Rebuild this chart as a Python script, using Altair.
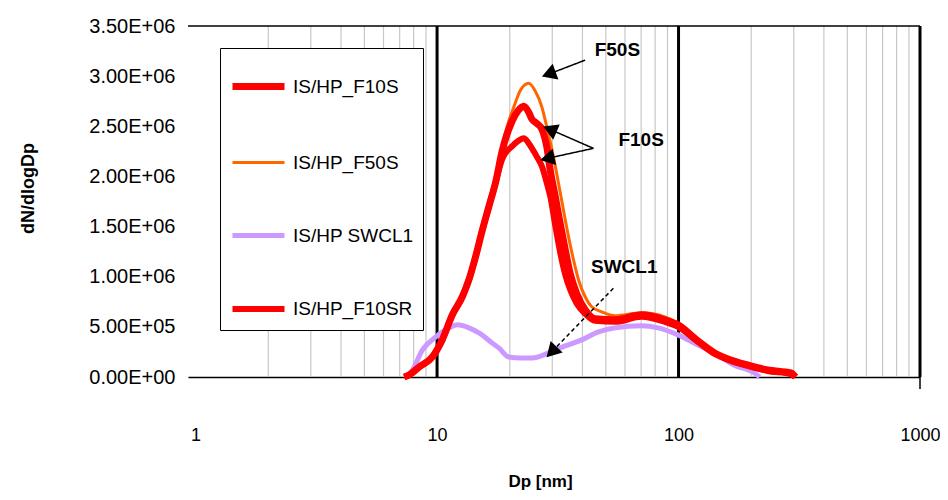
import altair as alt
import pandas as pd

# ---------------- data ----------------
series_names = ["IS/HP_F10S", "IS/HP_F50S", "IS/HP SWCL1", "IS/HP_F10SR"]
series_colors = ["#ff0000", "#ff6600", "#cc99ff", "#ff0000"]
series_widths = [7, 3, 5, 6]

f10s_dp = [7.31, 7.66, 8.43, 9.56, 10.5, 11.57, 12.72, 13.55, 14.44, 15.38, 16.39, 17.51, 18.59, 20.44,
           21.58, 22.85, 23.96, 24.72, 25.85, 27.18, 28.50, 29.43, 30.86, 32.36, 33.94, 35.59, 37.89, 41.05,
           45.11, 54.72, 70.24, 87.72, 99.5, 120.3, 141.1, 164.7, 193.4, 233.9, 291.9, 305.1]
f10s_val = [0, 0.02, 0.10, 0.20, 0.37, 0.62, 0.80, 0.97, 1.20, 1.46, 1.70, 1.95, 2.25, 2.55,
            2.65, 2.70, 2.64, 2.57, 2.53, 2.47, 2.29, 2.06, 1.80, 1.53, 1.27, 1.03, 0.83, 0.67,
            0.58, 0.57, 0.62, 0.57, 0.52, 0.36, 0.24, 0.17, 0.12, 0.07, 0.04, 0]

f10sr_dp = f10s_dp
f10sr_val = [0, 0.02, 0.10, 0.20, 0.37, 0.62, 0.80, 0.97, 1.20, 1.46, 1.70, 1.95, 2.17, 2.30,
             2.35, 2.38, 2.33, 2.28, 2.20, 2.10, 1.93, 1.80, 1.51, 1.24, 1.02, 0.87, 0.73, 0.63,
             0.56, 0.55, 0.60, 0.55, 0.50, 0.35, 0.23, 0.16, 0.11, 0.06, 0.03, 0]

f50s_dp = [7.31, 7.66, 8.43, 9.56, 10.5, 11.57, 12.72, 13.55, 14.44, 15.38, 16.39, 17.51, 18.59, 19.8,
           20.77, 22.14, 23.96, 25.4, 27.18, 28.50, 30.37, 31.85, 33.40, 35.02, 36.72, 38.52, 41.05, 43.69,
           48.05, 54.72, 70.24, 87.72, 99.5, 120.3, 141.1, 164.7, 193.4, 233.9, 291.9, 305.1]
f50s_val = [0, 0.02, 0.11, 0.21, 0.39, 0.64, 0.83, 1.0, 1.23, 1.49, 1.74, 2.0, 2.30, 2.55,
            2.69, 2.86, 2.93, 2.86, 2.69, 2.49, 2.19, 1.93, 1.66, 1.40, 1.17, 0.97, 0.80, 0.70,
            0.65, 0.61, 0.64, 0.60, 0.54, 0.38, 0.26, 0.18, 0.13, 0.08, 0.04, 0]

swcl1_dp = [7.52, 7.91, 8.70, 9.88, 11.21, 12.13, 13.55, 14.90, 16.90, 18.02, 19.82, 22.14, 24.72,
            28.96, 33.94, 39.73, 46.56, 54.72, 70.24, 82.33, 99.5, 120.3, 141.1, 169.4, 206.2, 216.8]
swcl1_val = [0, 0.07, 0.27, 0.40, 0.49, 0.52, 0.49, 0.44, 0.34, 0.29, 0.20, 0.19, 0.19,
             0.24, 0.31, 0.37, 0.45, 0.49, 0.51, 0.49, 0.42, 0.32, 0.24, 0.12, 0.04, 0]

x_tick_values = [1, 10, 100, 1000]
y_tick_values = [0, 500000, 1000000, 1500000, 2000000, 2500000, 3000000, 3500000]
minor_grid = [2, 3, 4, 5, 6, 7, 8, 9, 20, 30, 40, 50, 60, 70, 80, 90, 200, 300, 400, 500, 600, 700, 800, 900]
major_grid = [10, 100, 1000]

# annotations: label text and positions
ann_text = ["F50S", "F10S", "SWCL1"]
ann_text_dp = [55.8, 70.0, 59.6]
ann_text_val = [3.26e6, 2.36e6, 1.10e6]
# arrows: tail -> head
arrow_group = ["F50S", "F10S a", "F10S b", "SWCL1"]
arrow_tail_dp = [41.05, 44.4, 44.4, 53.7]
arrow_tail_val = [3.16e6, 2.28e6, 2.28e6, 0.884e6]
arrow_head_dp = [29.0, 29.3, 28.6, 29.8]
arrow_head_val = [3.02e6, 2.47e6, 2.18e6, 0.25e6]
arrow_angle = [250, 293, 258, 224]
arrow_dashed = [False, False, False, True]

# ---------------- build tables ----------------
rows = []
for name, dps, vals in [("IS/HP_F10S", f10s_dp, f10s_val), ("IS/HP_F50S", f50s_dp, f50s_val),
                        ("IS/HP SWCL1", swcl1_dp, swcl1_val), ("IS/HP_F10SR", f10sr_dp, f10sr_val)]:
    for i, (d, v) in enumerate(zip(dps, vals)):
        rows.append({"series": name, "Dp": d, "val": v * 1e6, "i": i})
df = pd.DataFrame(rows)

arrows = pd.DataFrame({"g": arrow_group, "tx": arrow_tail_dp, "ty": arrow_tail_val,
                       "hx": arrow_head_dp, "hy": arrow_head_val, "ang": arrow_angle,
                       "dashed": arrow_dashed})
ann = pd.DataFrame({"t": ann_text, "x": ann_text_dp, "y": ann_text_val})

FONT = "Liberation Sans, Arial, sans-serif"

x_scale = alt.Scale(type="log", domain=[0.93, 1000], nice=False)
y_scale = alt.Scale(domain=[0, 3500000], nice=False, zero=True)

color_scale = alt.Scale(domain=series_names, range=series_colors)
width_scale = alt.Scale(type="ordinal", domain=series_names, range=series_widths)

x_axis = alt.Axis(
    values=x_tick_values, labelExpr="format(datum.value, 'd')", title="Dp [nm]",
    grid=False, ticks=False, domain=True, domainColor="black", domainWidth=1.5,
    labelFont=FONT, labelFontSize=18, labelColor="black", labelPadding=49,
    labelFlush=False, labelOverlap=False,
    titleFont=FONT, titleFontSize=17, titleFontWeight="bold", titleColor="black",
    titleX=352, titleY=104, titleBaseline="middle", titleAlign="center",
)
y_axis = alt.Axis(
    values=y_tick_values,
    labelExpr="datum.value == 0 ? '0.00E+00' : (datum.value < 1000000 ? format(datum.value/100000, '.2f') + 'E+05' : format(datum.value/1000000, '.2f') + 'E+06')",
    title="dN/dlogDp", grid=False, ticks=False, domain=False,
    labelFont=FONT, labelFontSize=20, labelColor="black", labelPadding=13,
    labelFlush=False, labelOverlap=False,
    titleFont=FONT, titleFontSize=18, titleFontWeight="bold", titleColor="black",
    titleX=-160, titleY=162, titleAngle=270, titleAlign="center", titleBaseline="middle",
)

legend = alt.Legend(
    title=None, orient="none", legendX=32, legendY=22,
    symbolType="stroke", symbolSize=2704, labelFont=FONT, labelFontSize=19,
    labelColor="black", labelOffset=5, labelLimit=300, padding=9, rowPadding=34,
    strokeColor="black", fillColor="white", values=series_names,
)

minor = alt.Chart(pd.DataFrame({"Dp": minor_grid})).mark_rule(
    color="#c8c8c8", strokeWidth=1.2
).encode(x=alt.X("Dp:Q", scale=x_scale, axis=x_axis))

major = alt.Chart(pd.DataFrame({"Dp": major_grid})).mark_rule(
    color="black", strokeWidth=3
).encode(x=alt.X("Dp:Q", scale=x_scale, axis=x_axis))

right_tick = alt.Chart(pd.DataFrame({"Dp": [1000]})).mark_rule(
    color="black", strokeWidth=1.5
).encode(x=alt.X("Dp:Q", scale=x_scale, axis=x_axis), y=alt.value(340), y2=alt.value(363))

top_border = alt.Chart(pd.DataFrame({"v": [3500000]})).mark_rule(
    color="black", strokeWidth=1.5
).encode(y=alt.Y("v:Q", scale=y_scale, axis=y_axis))


def line_layer(name):
    return alt.Chart(df).transform_filter(alt.datum.series == name).mark_line(
        interpolate="monotone"
    ).encode(
        x=alt.X("Dp:Q", scale=x_scale, axis=x_axis),
        y=alt.Y("val:Q", scale=y_scale, axis=y_axis),
        color=alt.Color("series:N", scale=color_scale, legend=legend),
        strokeWidth=alt.StrokeWidth("series:N", scale=width_scale, legend=legend),
        order="i:Q",
    )


lines = [line_layer("IS/HP SWCL1"), line_layer("IS/HP_F50S"),
         line_layer("IS/HP_F10SR"), line_layer("IS/HP_F10S")]

arrow_lines = alt.Chart(arrows).mark_rule(color="black", strokeWidth=1.5).encode(
    x=alt.X("tx:Q", scale=x_scale, axis=x_axis), y=alt.Y("ty:Q", scale=y_scale, axis=y_axis),
    x2="hx:Q", y2="hy:Q",
    strokeDash=alt.condition(alt.datum.dashed, alt.value([4, 3]), alt.value([1, 0])),
)

arrow_heads = alt.Chart(arrows).mark_point(
    shape="triangle-up", filled=True, color="black", size=280, opacity=1
).encode(
    x=alt.X("hx:Q", scale=x_scale, axis=x_axis), y=alt.Y("hy:Q", scale=y_scale, axis=y_axis),
    angle=alt.Angle("ang:Q", scale=None),
)

ann_text_layer = alt.Chart(ann).mark_text(
    font=FONT, fontSize=19, fontWeight="bold", color="black", align="center", baseline="middle"
).encode(
    x=alt.X("x:Q", scale=x_scale, axis=x_axis), y=alt.Y("y:Q", scale=y_scale, axis=y_axis), text="t:N"
)

chart = alt.layer(
    minor, major, right_tick, top_border, *lines, arrow_lines, arrow_heads, ann_text_layer
).properties(
    width=732, height=351,
    autosize=alt.AutoSizeParams(type="none"),
    padding={"left": 180, "top": 18, "right": 20, "bottom": 115},
    background="white",
).configure_view(stroke=None)

chart.save("out.html", embed_options={"renderer": "svg", "actions": False})
